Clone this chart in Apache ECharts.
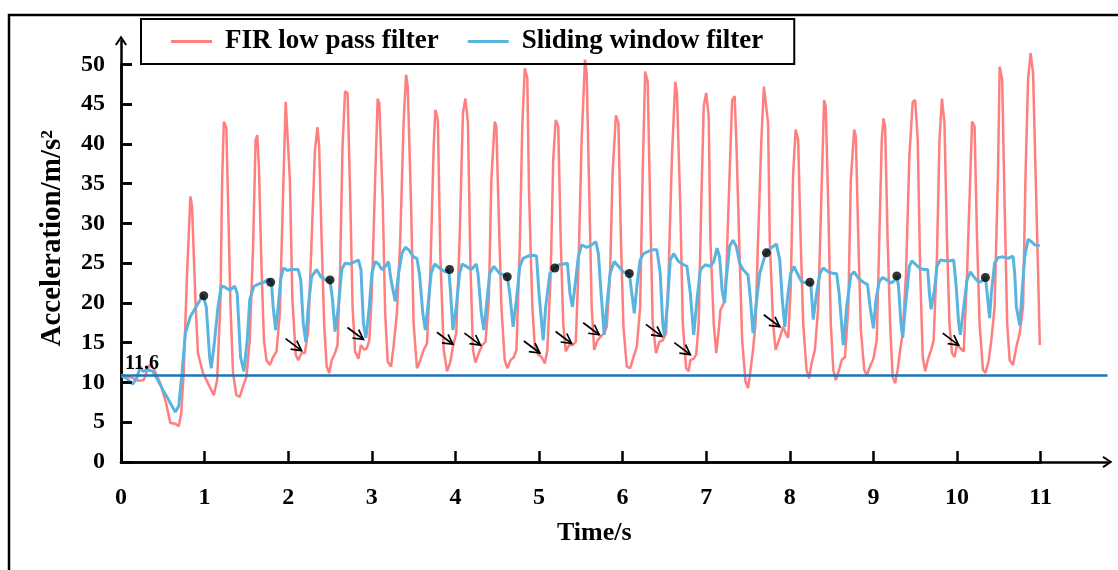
<!DOCTYPE html>
<html>
<head>
<meta charset="utf-8">
<script src="https://cdn.jsdelivr.net/npm/echarts@6/dist/echarts.min.js"></script>
<style>
html, body { margin: 0; padding: 0; background: #fff; }
#main { width: 1118px; height: 570px; }
</style>
</head>
<body>
<div id="main"></div>
<script>
// FIR low pass filter (red)
var firTime = [0.00,0.11,0.21,0.27,0.34,0.39,0.47,0.54,0.59,0.65,0.69,0.72,0.75,0.79,0.83,0.85,0.89,0.92,0.98,1.05,
    1.11,1.15,1.19,1.21,1.23,1.26,1.28,1.31,1.34,1.38,1.42,1.46,1.50,1.54,1.58,1.61,1.63,1.65,1.68,1.71,
    1.74,1.78,1.82,1.86,1.90,1.94,1.97,1.99,2.02,2.05,2.09,2.12,2.16,2.20,2.24,2.28,2.32,2.35,2.37,2.40,
    2.43,2.46,2.49,2.52,2.56,2.59,2.62,2.65,2.68,2.71,2.74,2.77,2.80,2.84,2.87,2.91,2.94,2.97,3.00,3.04,
    3.07,3.09,3.13,3.16,3.19,3.23,3.26,3.30,3.34,3.38,3.41,3.43,3.47,3.50,3.54,3.58,3.62,3.66,3.70,3.74,
    3.76,3.79,3.82,3.86,3.90,3.94,3.97,4.01,4.05,4.09,4.12,4.15,4.18,4.21,4.24,4.28,4.32,4.36,4.40,4.43,
    4.47,4.49,4.51,4.55,4.59,4.62,4.66,4.70,4.73,4.77,4.80,4.83,4.86,4.88,4.92,4.95,4.99,5.03,5.07,5.10,
    5.14,5.17,5.20,5.23,5.26,5.29,5.32,5.36,5.40,5.44,5.47,5.51,5.55,5.57,5.60,5.63,5.66,5.70,5.74,5.78,
    5.81,5.85,5.88,5.92,5.95,5.98,6.01,6.05,6.09,6.13,6.17,6.21,6.24,6.27,6.30,6.33,6.36,6.40,6.44,6.48,
    6.52,6.55,6.59,6.63,6.65,6.69,6.72,6.76,6.79,6.81,6.85,6.88,6.91,6.94,6.97,7.00,7.03,7.05,7.09,7.12,
    7.15,7.17,7.21,7.24,7.28,7.31,7.34,7.36,7.40,7.43,7.47,7.50,7.52,7.56,7.59,7.62,7.66,7.69,7.71,7.74,
    7.76,7.80,7.83,7.88,7.92,7.95,7.98,8.01,8.04,8.07,8.10,8.13,8.16,8.20,8.23,8.26,8.30,8.34,8.38,8.41,
    8.43,8.46,8.49,8.52,8.55,8.59,8.62,8.66,8.70,8.73,8.77,8.79,8.82,8.85,8.89,8.92,8.96,9.00,9.04,9.07,
    9.10,9.12,9.14,9.17,9.20,9.23,9.26,9.29,9.32,9.35,9.39,9.43,9.47,9.50,9.53,9.56,9.59,9.62,9.65,9.69,
    9.72,9.76,9.79,9.82,9.85,9.88,9.91,9.94,9.97,10.00,10.04,10.08,10.12,10.16,10.18,10.21,10.24,10.27,10.31,10.34,
    10.38,10.41,10.45,10.49,10.51,10.54,10.57,10.60,10.63,10.67,10.71,10.75,10.79,10.82,10.85,10.88,10.91,10.94,10.97,10.99];
var firAcc = [10.9,10.7,10.2,10.3,12.2,11.8,9.9,7.4,4.9,4.8,4.5,6.1,11.2,23.7,33.4,32.1,20.4,13.7,11.2,9.7,
    8.4,10.3,20.4,35.5,42.8,42.0,33.0,19.5,11.2,8.4,8.2,9.5,10.7,15.3,27.1,40.5,41.1,37.1,24.6,15.3,
    12.8,12.2,13.2,13.9,18.7,34.2,45.3,45.1,35.5,20.4,13.5,12.8,13.7,13.7,16.6,27.9,39.2,42.1,39.7,27.9,
    17.4,12.0,11.2,12.8,13.7,14.7,23.7,39.7,46.6,46.4,34.2,19.5,13.9,13.0,14.7,14.1,14.3,15.3,21.2,35.5,
    45.7,45.1,33.0,18.7,12.6,12.0,14.5,18.7,27.9,42.6,48.7,47.2,32.1,17.4,11.8,12.8,14.1,14.9,23.7,39.7,
    44.3,43.0,25.8,14.1,11.4,12.6,14.5,16.2,27.9,43.9,45.7,42.6,24.6,14.1,12.5,13.7,14.7,15.1,20.4,35.5,
    42.8,42.2,34.2,19.5,12.8,11.8,12.8,13.2,14.1,27.1,42.2,49.5,48.3,34.2,19.5,14.5,13.5,13.2,12.4,14.1,
    23.7,38.0,43.0,42.2,27.9,17.4,13.9,14.7,14.7,15.1,23.7,40.5,50.6,48.9,34.2,19.5,14.1,15.3,15.8,16.2,
    17.0,23.7,36.3,43.6,42.6,27.9,17.0,12.0,11.8,13.2,14.5,19.5,36.3,49.1,47.8,32.1,17.4,13.7,15.1,15.3,
    16.2,23.7,38.4,47.8,46.4,32.1,17.4,11.8,11.4,12.8,13.0,13.5,17.4,32.1,44.7,46.4,43.4,27.9,17.4,13.7,
    16.6,19.1,20.0,23.7,36.3,45.5,46.0,40.5,25.8,15.3,10.1,9.3,10.7,14.1,17.4,27.9,40.5,47.2,47.4,42.6,
    27.9,17.4,14.1,15.6,17.0,16.2,15.6,21.6,36.3,41.8,40.5,27.9,17.4,11.6,10.5,12.4,14.1,19.5,34.2,45.5,
    44.7,32.1,17.4,11.6,10.3,11.6,12.8,13.2,19.5,35.5,41.8,40.9,27.9,16.6,11.6,10.9,12.0,13.0,15.3,27.9,
    40.5,43.2,42.2,27.9,17.4,10.7,9.9,11.6,14.1,16.2,23.7,38.4,45.3,45.5,40.5,23.7,13.2,11.4,12.8,14.1,
    15.3,25.8,40.5,45.7,42.6,27.9,17.4,13.7,13.2,14.7,14.3,13.9,23.7,36.3,42.8,42.2,27.9,17.4,11.6,11.2,
    12.8,15.3,19.5,36.3,49.7,48.1,32.1,17.4,12.8,12.2,14.5,16.2,19.5,36.3,48.1,51.4,48.9,36.3,23.7,14.7];

// Sliding window filter (blue)
var swTime = [0.01,0.07,0.14,0.19,0.23,0.26,0.32,0.38,0.44,0.50,0.56,0.59,0.65,0.69,0.73,0.77,0.83,0.91,0.98,1.02,
    1.06,1.08,1.12,1.16,1.20,1.24,1.30,1.36,1.39,1.43,1.47,1.51,1.54,1.59,1.65,1.71,1.76,1.80,1.82,1.85,
    1.88,1.91,1.94,1.99,2.05,2.12,2.15,2.18,2.21,2.24,2.28,2.34,2.39,2.45,2.50,2.53,2.56,2.60,2.64,2.68,
    2.74,2.80,2.84,2.87,2.90,2.93,2.97,3.00,3.04,3.08,3.12,3.17,3.20,3.23,3.28,3.32,3.36,3.40,3.44,3.50,
    3.54,3.57,3.61,3.64,3.67,3.71,3.75,3.81,3.88,3.92,3.94,3.97,4.01,4.05,4.08,4.13,4.19,4.25,4.27,4.31,
    4.34,4.37,4.41,4.46,4.53,4.62,4.65,4.69,4.73,4.77,4.81,4.87,4.93,4.97,5.00,5.05,5.08,5.13,5.19,5.24,
    5.29,5.34,5.37,5.40,5.43,5.47,5.51,5.57,5.63,5.68,5.71,5.74,5.78,5.81,5.85,5.90,5.95,6.01,6.08,6.11,
    6.14,6.17,6.21,6.25,6.31,6.37,6.41,6.45,6.48,6.50,6.54,6.57,6.61,6.67,6.73,6.77,6.81,6.85,6.89,6.93,
    6.99,7.05,7.09,7.13,7.16,7.19,7.22,7.24,7.28,7.32,7.36,7.40,7.44,7.50,7.53,7.56,7.60,7.64,7.71,7.76,
    7.80,7.84,7.88,7.91,7.94,7.97,8.01,8.05,8.09,8.14,8.20,8.25,8.28,8.32,8.36,8.40,8.46,8.52,8.56,8.59,
    8.64,8.68,8.73,8.77,8.82,8.88,8.93,8.96,9.00,9.03,9.07,9.11,9.16,9.21,9.25,9.28,9.30,9.33,9.35,9.39,
    9.43,9.46,9.50,9.55,9.60,9.65,9.67,9.69,9.73,9.76,9.80,9.86,9.92,9.96,9.99,10.02,10.04,10.08,10.12,10.16,
    10.20,10.26,10.31,10.34,10.36,10.39,10.41,10.45,10.49,10.55,10.61,10.67,10.69,10.71,10.75,10.78,10.81,10.85,10.89,10.93,
    10.99];
var swAcc = [10.8,10.5,9.8,10.6,12.0,11.4,11.6,11.4,10.3,9.1,8.0,7.4,6.3,7.0,11.2,16.2,18.3,19.7,21.0,19.5,
    13.2,11.8,15.3,19.5,22.1,22.0,21.6,22.1,21.2,13.2,11.4,15.3,20.4,22.1,22.4,22.6,23.0,22.6,19.5,16.6,
    19.5,22.9,24.4,24.1,24.2,24.2,22.9,17.4,15.1,19.5,23.3,24.2,23.3,22.9,22.9,20.4,16.4,19.5,24.2,25.0,
    24.9,25.2,25.4,24.2,17.4,15.6,19.5,23.7,25.2,24.9,24.2,24.7,25.2,22.9,20.2,23.7,26.2,27.0,26.7,25.8,
    25.6,23.7,18.7,16.6,19.5,23.7,24.9,24.4,23.9,24.2,21.6,16.6,19.5,23.7,24.9,24.6,24.2,24.9,23.7,18.7,
    16.6,19.5,23.7,24.6,23.7,23.4,21.2,17.0,20.4,24.6,25.6,25.9,26.0,25.9,21.2,15.3,19.5,23.7,24.4,24.8,
    24.9,25.0,21.2,19.5,22.1,25.8,27.3,27.0,27.3,27.7,26.2,21.6,16.0,19.5,23.7,25.2,24.6,23.9,23.7,21.2,
    18.7,22.1,25.4,26.2,26.5,26.7,26.7,23.7,17.4,15.8,20.4,25.4,26.2,25.2,24.8,24.6,21.2,16.0,20.4,24.2,
    24.8,24.6,25.2,26.9,25.8,21.6,20.0,22.9,27.1,27.9,27.1,25.0,24.2,23.5,20.4,16.2,20.0,23.7,26.2,26.8,
    27.1,27.4,25.4,20.4,17.0,20.4,23.7,24.6,23.7,22.7,22.5,22.6,17.9,21.2,23.7,24.4,23.9,23.7,23.7,21.2,
    14.7,19.5,23.5,23.9,23.1,22.6,22.3,19.5,16.8,20.4,22.7,23.2,22.9,22.5,22.8,23.4,22.1,17.4,15.6,20.4,
    24.6,25.3,24.9,24.4,24.2,24.2,21.2,19.2,21.6,24.6,25.4,25.3,25.3,25.4,22.1,17.4,16.0,19.5,22.9,23.9,
    23.3,22.6,22.8,23.2,21.2,18.1,21.2,25.0,25.7,25.8,25.6,25.9,23.7,19.5,17.2,21.6,25.8,28.0,27.7,27.3,
    27.2];

// black dots on the sliding window curve
var dotTime = [0.99, 1.79, 2.50, 3.93, 4.62, 5.19, 6.08, 7.72, 8.24, 9.28, 10.34];
var dotAcc = [20.9, 22.6, 22.9, 24.2, 23.3, 24.4, 23.7, 26.3, 22.6, 23.4, 23.2];

// arrow tips pointing at the FIR valleys
var arrowTime = [2.16, 2.90, 3.97, 4.30, 5.01, 5.39, 5.72, 6.47, 6.81, 7.88, 10.02];
var arrowAcc = [14.0, 15.4, 14.8, 14.7, 13.7, 14.9, 16.0, 15.8, 13.5, 17.0, 14.7];

// threshold line
var baseLevel = 10.95;
var baseLabel = '11.6';

var yTicks = [0, 5, 10, 15, 20, 25, 30, 35, 40, 45, 50];

function pairs(xs, ys) {
    var out = [];
    for (var i = 0; i < xs.length; i++) {
        out.push([xs[i], ys[i]]);
    }
    return out;
}

var serif = 'Liberation Serif';
var chevron = 'path://M0,9 L6,0 L12,9 L10.3,10 L6,3.4 L1.7,10 Z';

// outer (arrow) grid runs x 0..11.8, y 0..53; the tick grid uses the same scale up to 11 / 50
var plotLeft = 121, plotRight = 10.5, plotTop = 40.5, plotBottom = 108;
var xMax = 11.8, yMax = 53;
var pxPerX = (1118 - plotLeft - plotRight) / xMax;
var pxPerY = (570 - plotTop - plotBottom) / yMax;
var tickTop = 570 - plotBottom - 50 * pxPerY;
var tickLen = 11;

// inward y ticks as short segments from the axis, one per tick value
var tickSpan = tickLen / pxPerX;
var yTickSegments = yTicks.map(function (v) {
    return [{coord: [0, v]}, {coord: [tickSpan, v]}];
});

function renderArrow(params, api) {
    var p = api.coord([api.value(0), api.value(1)]);
    var x = p[0], y = p[1];
    return {
        type: 'group',
        children: [
            {
                type: 'line',
                shape: {x1: x - 16, y1: y - 12, x2: x, y2: y},
                style: {stroke: '#000', lineWidth: 1.7}
            },
            {
                type: 'polyline',
                shape: {points: [[x - 11, y - 1.5], [x, y], [x - 4.8, y - 10]]},
                style: {stroke: '#000', lineWidth: 1.7, fill: null}
            }
        ]
    };
}

var axisText = {fontFamily: serif, fontWeight: 'bold', fontSize: 24, color: '#000'};

var chart = echarts.init(document.getElementById('main'));
var option = {
    animation: false,
    backgroundColor: '#fff',
    graphic: [
        {
            type: 'rect',
            shape: {x: 9, y: 15, width: 1300, height: 800},
            style: {fill: 'none', stroke: '#000', lineWidth: 2.5},
            z: 100
        }
    ],
    legend: {
        data: ['FIR low pass filter', 'Sliding window filter'],
        left: 141,
        top: 19,
        padding: [9, 31, 9, 30],
        itemGap: 29,
        itemWidth: 41,
        itemHeight: 3,
        icon: 'rect',
        borderColor: '#000',
        borderWidth: 2,
        borderRadius: 0,
        textStyle: {
            fontFamily: serif,
            fontWeight: 'bold',
            fontSize: 27,
            color: '#000',
            padding: [0, 0, 0, 8]
        }
    },
    grid: [
        // tick grid, 0..11 s and 0..50
        {left: plotLeft, width: 11 * pxPerX, top: tickTop, bottom: plotBottom},
        // arrow grid
        {left: plotLeft, right: plotRight, top: plotTop, bottom: plotBottom}
    ],
    xAxis: [
        {
            type: 'value',
            gridIndex: 0,
            min: 0,
            max: 11,
            interval: 1,
            splitLine: {show: false},
            axisLine: {show: true, onZero: false, lineStyle: {color: '#000', width: 2.5}},
            axisTick: {show: true, inside: true, length: tickLen, lineStyle: {color: '#000', width: 2.5}},
            axisLabel: Object.assign({margin: 24}, axisText)
        },
        {
            type: 'value',
            gridIndex: 1,
            min: 0,
            max: xMax,
            name: 'Time/s',
            nameLocation: 'middle',
            nameGap: 58,
            nameTextStyle: {
                fontFamily: serif,
                fontWeight: 'bold',
                fontSize: 26,
                color: '#000',
                padding: [0, 40, 0, 0]
            },
            splitLine: {show: false},
            axisLine: {
                onZero: false,
                symbol: ['none', chevron],
                symbolSize: [12, 10],
                lineStyle: {color: '#000', width: 2.5}
            },
            axisTick: {show: false},
            axisLabel: {show: false}
        }
    ],
    yAxis: [
        {
            type: 'value',
            gridIndex: 0,
            min: 0,
            max: 50,
            interval: 5,
            splitLine: {show: false},
            axisLine: {show: true, lineStyle: {color: '#000', width: 2.5}},
            axisTick: {show: true, inside: true, length: tickLen, lineStyle: {color: '#000', width: 2.5}},
            axisLabel: Object.assign({margin: 16}, axisText)
        },
        {
            type: 'value',
            gridIndex: 1,
            min: 0,
            max: yMax,
            name: 'Acceleration/m/s²',
            nameLocation: 'middle',
            nameGap: 54,
            nameRotate: 90,
            nameTextStyle: {
                fontFamily: serif,
                fontWeight: 'bold',
                fontSize: 29,
                color: '#000',
                padding: [0, 0, 0, 26]
            },
            splitLine: {show: false},
            axisLine: {
                show: true,
                symbol: ['none', chevron],
                symbolSize: [12, 10],
                lineStyle: {color: '#000', width: 2.5}
            },
            axisTick: {show: false},
            axisLabel: {show: false}
        }
    ],
    series: [
        {
            name: 'FIR low pass filter',
            type: 'line',
            xAxisIndex: 0,
            yAxisIndex: 0,
            clip: false,
            data: pairs(firTime, firAcc),
            showSymbol: false,
            color: '#ff7f7f',
            lineStyle: {color: '#ff7f7f', width: 2.5},
            z: 2
        },
        {
            name: 'Sliding window filter',
            type: 'line',
            xAxisIndex: 0,
            yAxisIndex: 0,
            clip: false,
            data: pairs(swTime, swAcc),
            showSymbol: false,
            color: '#5ab4e0',
            lineStyle: {color: '#5ab4e0', width: 3},
            z: 3
        },
        {
            name: 'yTicks',
            type: 'line',
            xAxisIndex: 0,
            yAxisIndex: 0,
            data: [],
            z: 7,
            markLine: {
                silent: true,
                symbol: 'none',
                data: yTickSegments,
                lineStyle: {color: '#000', width: 2.5, type: 'solid'},
                label: {show: false}
            }
        },
        {
            name: 'marks',
            type: 'scatter',
            xAxisIndex: 1,
            yAxisIndex: 1,
            data: pairs(dotTime, dotAcc),
            symbol: 'circle',
            symbolSize: 9,
            itemStyle: {color: '#000'},
            z: 5,
            markLine: {
                silent: true,
                symbol: 'none',
                z: 4,
                data: [{yAxis: baseLevel}],
                lineStyle: {color: '#1f74b6', width: 2.5, type: 'solid'},
                label: {
                    show: true,
                    position: 'insideStartTop',
                    formatter: baseLabel,
                    distance: [4, 1],
                    fontFamily: serif,
                    fontWeight: 'bold',
                    fontSize: 20,
                    color: '#000'
                }
            }
        },
        {
            name: 'arrows',
            type: 'custom',
            xAxisIndex: 1,
            yAxisIndex: 1,
            data: pairs(arrowTime, arrowAcc),
            renderItem: renderArrow,
            clip: false,
            z: 6
        }
    ]
};
chart.setOption(option);
</script>
</body>
</html>
